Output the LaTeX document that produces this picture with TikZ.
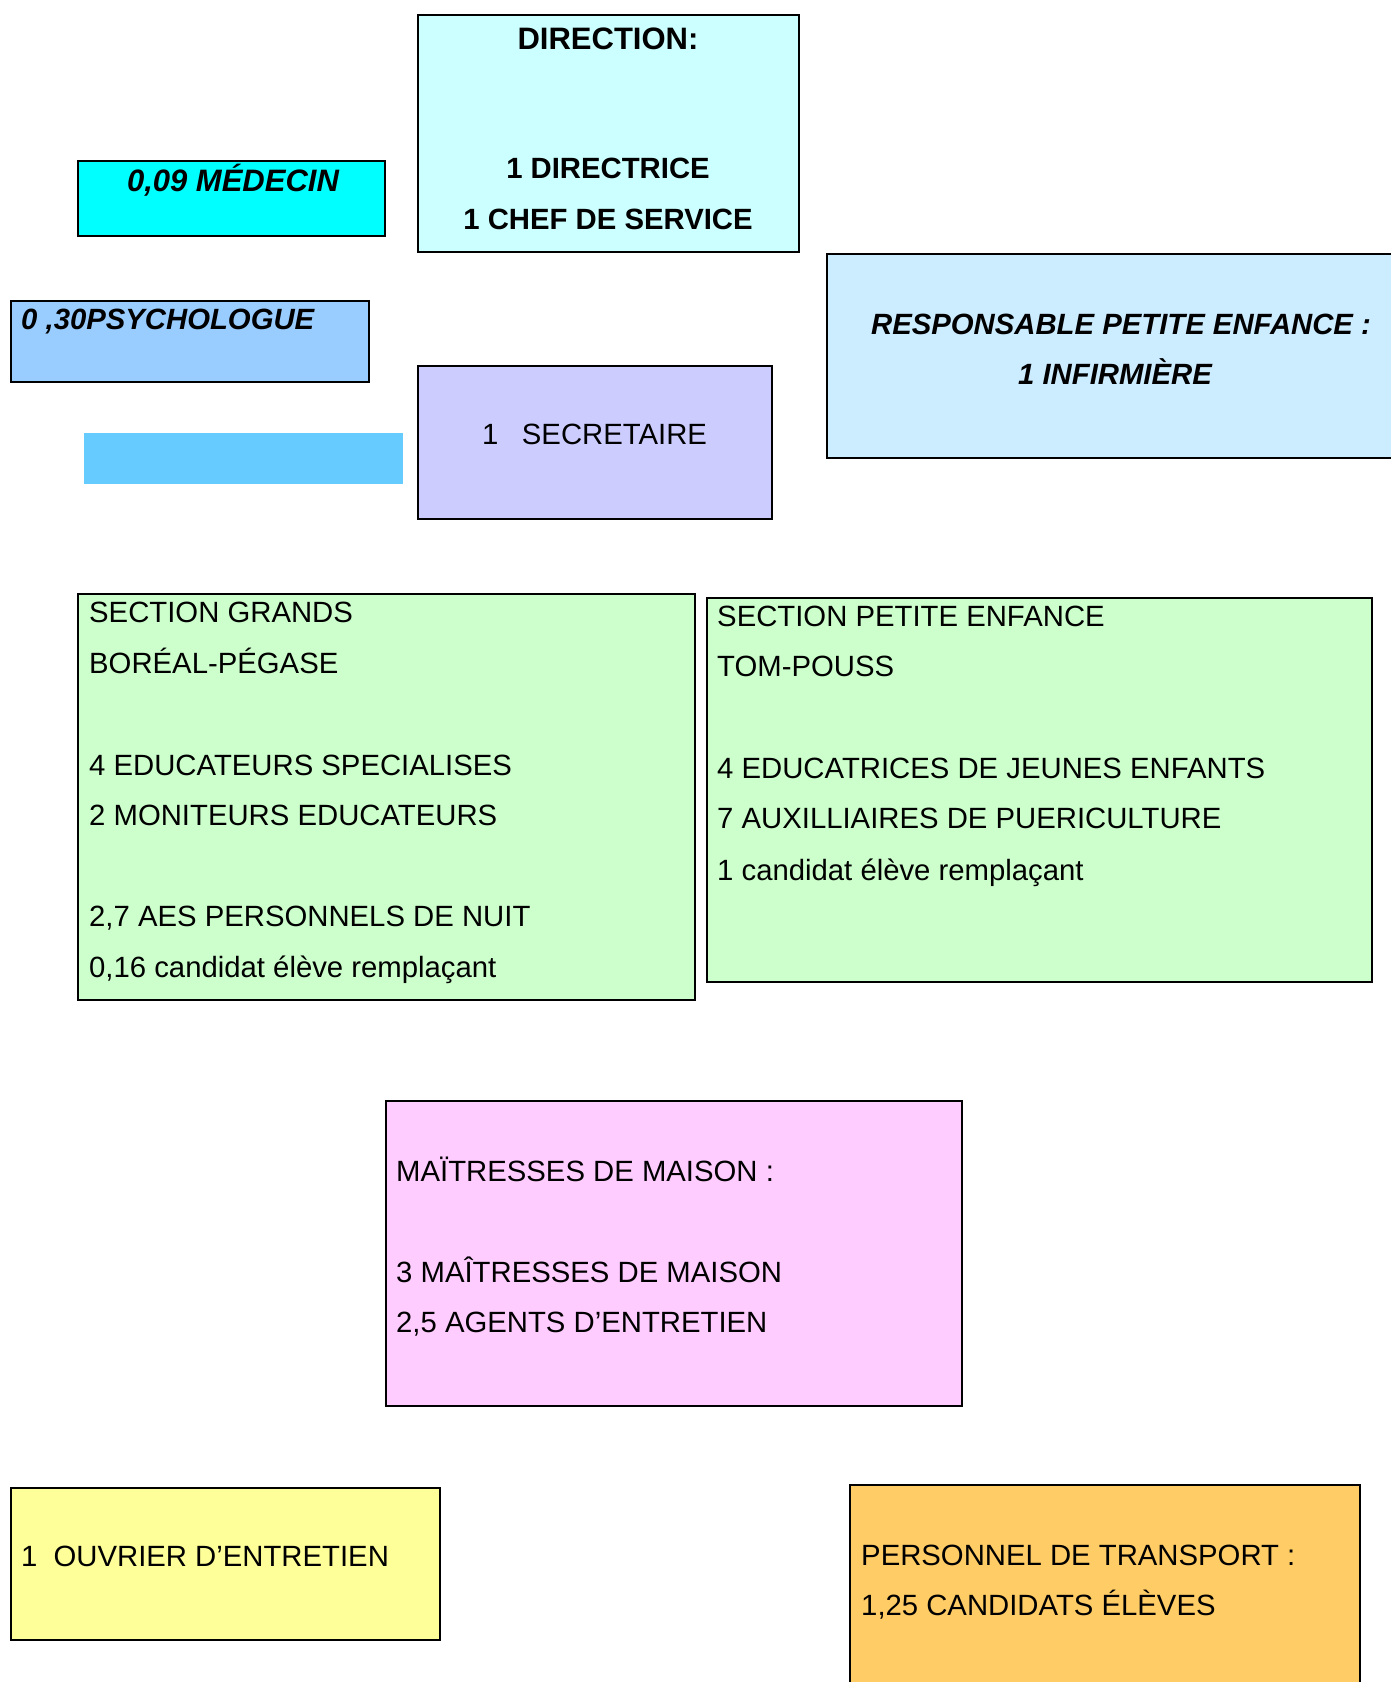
\documentclass[tikz,border=0pt]{standalone}
\usepackage{fontspec}
\setmainfont{Liberation Sans}
\definecolor{cdir}{HTML}{CCFFFF}
\definecolor{cmed}{HTML}{00FFFF}
\definecolor{cpsy}{HTML}{99CCFF}
\definecolor{cbar}{HTML}{66CCFF}
\definecolor{csec}{HTML}{CCCCFF}
\definecolor{cresp}{HTML}{CCECFF}
\definecolor{cgreen}{HTML}{CCFFCC}
\definecolor{cpink}{HTML}{FFCCFF}
\definecolor{cyel}{HTML}{FFFF99}
\definecolor{corange}{HTML}{FFCC66}
\tikzset{
  boxframe/.style={draw=black,line width=2pt},
  txt/.style={inner sep=0pt,font=\fontsize{29.3}{35}\selectfont},
  txtb/.style={txt,font=\fontsize{29.3}{35}\selectfont\bfseries},
  txtbi/.style={txt,font=\fontsize{29.3}{35}\selectfont\bfseries\itshape},
}
\begin{document}
\begin{tikzpicture}[x=1pt,y=-1pt]
\useasboundingbox (0,0) rectangle (1391,1682);
\clip (0,0) rectangle (1391,1682);
\fill[white] (0,0) rectangle (1391,1682);
% boxes
\draw[boxframe,fill=cdir] (418,15) rectangle (799,252);
\draw[boxframe,fill=cmed] (78,161) rectangle (385,236);
\draw[boxframe,fill=cpsy] (11,301) rectangle (369,382);
\fill[cbar] (84,433) rectangle (403,484);
\draw[boxframe,fill=csec] (418,366) rectangle (772,519);
\draw[boxframe,fill=cresp] (827,254) rectangle (1400,458);
\draw[boxframe,fill=cgreen] (78,594) rectangle (695,1000);
\draw[boxframe,fill=cgreen] (707,598) rectangle (1372,982);
\draw[boxframe,fill=cpink] (386,1101) rectangle (962,1406);
\draw[boxframe,fill=cyel] (11,1488) rectangle (440,1640);
\draw[boxframe,fill=corange] (850,1485) rectangle (1360,1700);
% direction
\node[txtb,anchor=base,font=\fontsize{31}{35}\selectfont\bfseries] (dirt) at (608,49) {DIRECTION:};
\node[txtb,anchor=base] (dir1) at (608,178) {1 DIRECTRICE};
\node[txtb,anchor=base] (dir2) at (608,229) {1 CHEF DE SERVICE};
% medecin, psychologue
\node[txtbi,anchor=base,font=\fontsize{31}{35}\selectfont\bfseries\itshape] (med) at (233,191) {0,09 MÉDECIN};
\node[txtbi,anchor=base west] (psy) at (21,329) {0 ,30PSYCHOLOGUE};
% secretaire
\node[txt,anchor=base west] (sec) at (482,444) {1\hspace{0.8em}SECRETAIRE};
% responsable
\node[txtbi,anchor=base] (resp1) at (1121,334) {RESPONSABLE PETITE ENFANCE :};
\node[txtbi,anchor=base] (resp2) at (1115,384) {1 INFIRMIÈRE};
% section grands
\node[txt,anchor=base west] (g1) at (89,622) {SECTION GRANDS};
\node[txt,anchor=base west] (g2) at (89,673) {BORÉAL-PÉGASE};
\node[txt,anchor=base west] (g3) at (89,775) {4 EDUCATEURS SPECIALISES};
\node[txt,anchor=base west] (g4) at (89,825) {2 MONITEURS EDUCATEURS};
\node[txt,anchor=base west] (g5) at (89,926) {2,7 AES PERSONNELS DE NUIT};
\node[txt,anchor=base west] (g6) at (89,977) {0,16 candidat élève remplaçant};
% section petite enfance
\node[txt,anchor=base west] (p1) at (717,626) {SECTION PETITE ENFANCE};
\node[txt,anchor=base west] (p2) at (717,676) {TOM-POUSS};
\node[txt,anchor=base west] (p3) at (717,778) {4 EDUCATRICES DE JEUNES ENFANTS};
\node[txt,anchor=base west] (p4) at (717,828) {7 AUXILLIAIRES DE PUERICULTURE};
\node[txt,anchor=base west] (p5) at (717,880) {1 candidat élève remplaçant};
% maitresses
\node[txt,anchor=base west] (m1) at (396,1181) {MAÏTRESSES DE MAISON :};
\node[txt,anchor=base west] (m2) at (396,1282) {3 MAÎTRESSES DE MAISON};
\node[txt,anchor=base west] (m3) at (396,1332) {2,5 AGENTS D’ENTRETIEN};
% ouvrier
\node[txt,anchor=base west] (ouv) at (21,1566) {1\hspace{0.55em}OUVRIER D’ENTRETIEN};
% transport
\node[txt,anchor=base west] (t1) at (861,1565) {PERSONNEL DE TRANSPORT :};
\node[txt,anchor=base west] (t2) at (861,1615) {1,25 CANDIDATS ÉLÈVES};
\end{tikzpicture}
\end{document}
